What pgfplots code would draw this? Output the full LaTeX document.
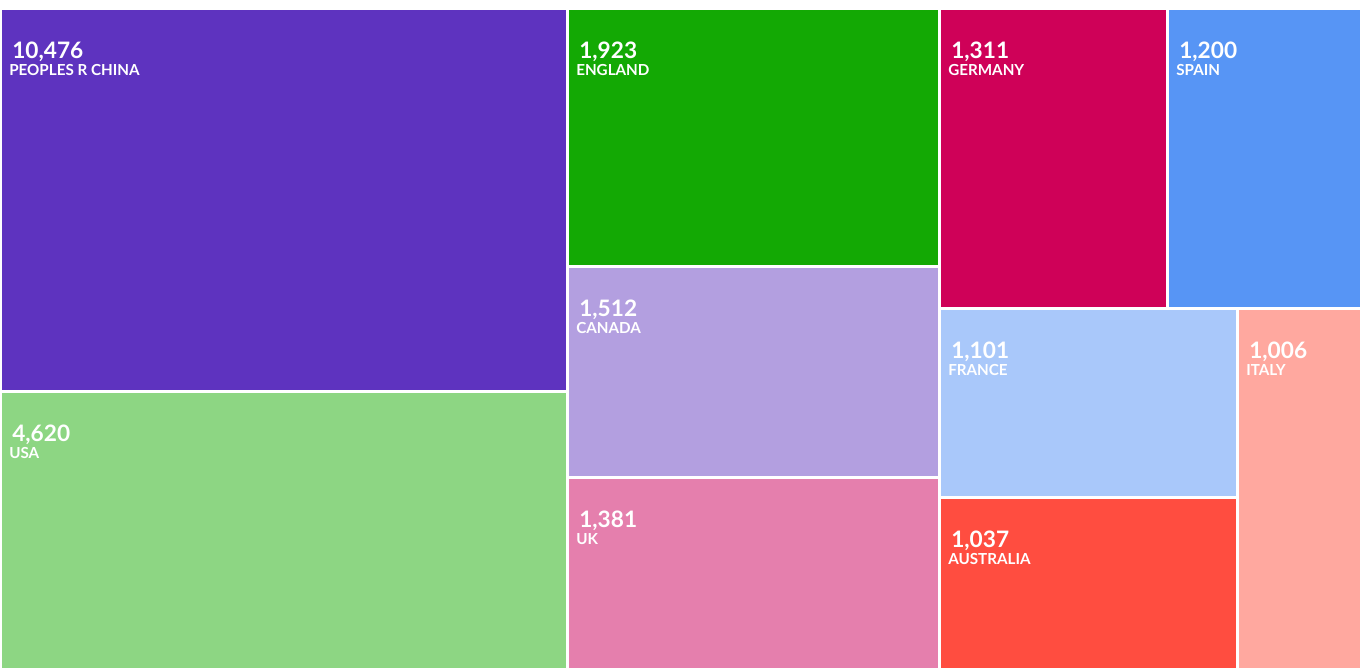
\documentclass[border=0pt]{standalone}
\usepackage{pgfplots}
\pgfplotsset{compat=1.18}
\usepackage{fontspec}
\setmainfont{Lato}
\definecolor{cChina}{HTML}{5E33BF}
\definecolor{cUSA}{HTML}{8DD683}
\definecolor{cEngland}{HTML}{13A904}
\definecolor{cCanada}{HTML}{B39FE0}
\definecolor{cUK}{HTML}{E57FAD}
\definecolor{cGermany}{HTML}{CF0158}
\definecolor{cSpain}{HTML}{5795F5}
\definecolor{cFrance}{HTML}{A9C8FA}
\definecolor{cAustralia}{HTML}{FF4D40}
\definecolor{cItaly}{HTML}{FFA89F}
\newcommand{\cell}[7]{%
  \addplot[fill=#5, draw=none] coordinates {(#1,#2) (#3,#2) (#3,#4) (#1,#4)} -- cycle;
  \node[anchor=base west, text=white, font=\bfseries\fontsize{17}{17}\selectfont, inner sep=0pt] at (axis cs:#1+10,#2+48) {#6};
  \node[anchor=base west, text=white, font=\bfseries\fontsize{11.4}{11.4}\selectfont, inner sep=0pt] at (axis cs:#1+7,#2+65) {#7};
}
\begin{document}
\begin{tikzpicture}
\begin{axis}[
  width=1020.75pt, height=501.75pt, scale only axis,
  xmin=0, xmax=1361, ymin=0, ymax=669, y dir=reverse,
  axis lines=none, clip=false,
]
\addplot[fill=white, draw=none] coordinates {(0,0) (1361,0) (1361,669) (0,669)} -- cycle;
\cell{2}{10}{566}{390}{cChina}{10,476}{PEOPLES R CHINA}
\cell{2}{393}{566}{668}{cUSA}{4,620}{USA}
\cell{569}{10}{938}{265}{cEngland}{1,923}{ENGLAND}
\cell{569}{268}{938}{476}{cCanada}{1,512}{CANADA}
\cell{569}{479}{938}{668}{cUK}{1,381}{UK}
\cell{941}{10}{1166}{307}{cGermany}{1,311}{GERMANY}
\cell{1169}{10}{1360}{307}{cSpain}{1,200}{SPAIN}
\cell{941}{310}{1236}{496}{cFrance}{1,101}{FRANCE}
\cell{941}{499}{1236}{668}{cAustralia}{1,037}{AUSTRALIA}
\cell{1239}{310}{1360}{668}{cItaly}{1,006}{ITALY}
\end{axis}
\end{tikzpicture}
\end{document}
